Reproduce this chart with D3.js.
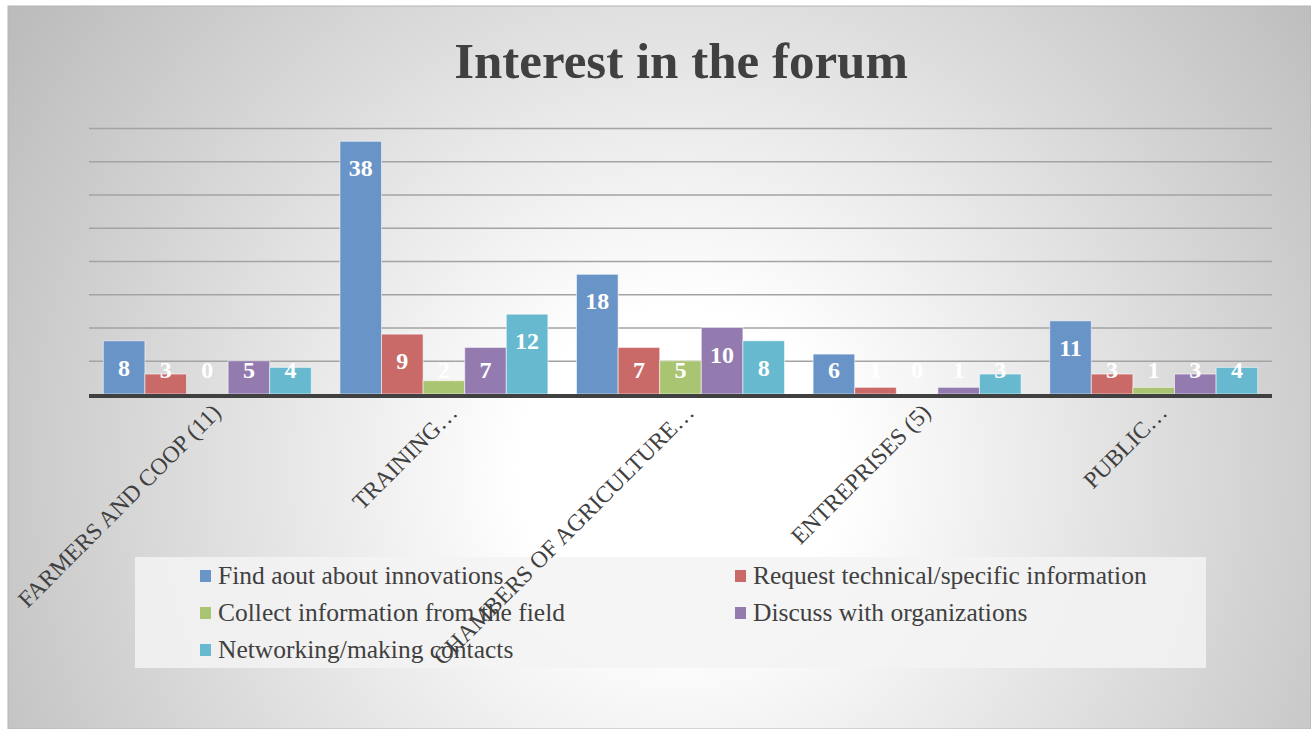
<!DOCTYPE html>
<html>
<head>
<meta charset="utf-8">
<script src="https://cdn.jsdelivr.net/npm/d3@7"></script>
<style>
  html, body { margin: 0; padding: 0; background: #ffffff; }
  svg { display: block; }
</style>
</head>
<body>
<svg id="chart" width="1311" height="729"></svg>
<script>
// ---- data ----
const categories = ["FARMERS AND COOP (11)", "TRAINING…", "CHAMBERS OF AGRICULTURE…", "ENTREPRISES (5)", "PUBLIC…"];
const seriesNames = [
  "Find aout about innovations",
  "Request technical/specific information",
  "Collect information from the field",
  "Discuss with organizations",
  "Networking/making contacts"
];
const findInnovations = [8, 38, 18, 6, 11];
const requestInfo     = [3, 9, 7, 1, 3];
const collectInfo     = [0, 2, 5, 0, 1];
const discussOrgs     = [5, 7, 10, 1, 3];
const networking      = [4, 12, 8, 3, 4];
const gridTicks = [5, 10, 15, 20, 25, 30, 35, 40];
const titleText = "Interest in the forum";

const seriesValues = [findInnovations, requestInfo, collectInfo, discussOrgs, networking];
const colors = ["#6994c7", "#c96a68", "#aac572", "#937bb0", "#66b9cf"];

const svg = d3.select("#chart");
const W = 1311, H = 729;

// ---- background ----
const defs = svg.append("defs");
const rg = defs.append("radialGradient").attr("id", "bg")
  .attr("gradientUnits", "userSpaceOnUse")
  .attr("cx", 680).attr("cy", 470).attr("r", 800);
rg.append("stop").attr("offset", "0").attr("stop-color", "#ffffff");
rg.append("stop").attr("offset", "0.2").attr("stop-color", "#ffffff");
rg.append("stop").attr("offset", "1").attr("stop-color", "#bcbcbc");

svg.append("rect").attr("x", 8).attr("y", 6).attr("width", W - 8).attr("height", H - 6)
  .attr("fill", "url(#bg)").attr("stroke", "#b5b5b5").attr("stroke-width", 1);

// ---- title ----
svg.append("text")
  .attr("x", 681).attr("y", 78)
  .attr("text-anchor", "middle")
  .attr("font-family", "'Liberation Serif', 'DejaVu Serif', serif")
  .attr("font-weight", "bold")
  .attr("font-size", 51)
  .attr("fill", "#404040")
  .text(titleText);

// ---- scales ----
const plot = { left: 89, right: 1272, top: 128, bottom: 394 };
const x0 = d3.scaleBand().domain(categories).range([plot.left, plot.right])
  .paddingInner(0.121).paddingOuter(0.0605);
const x1 = d3.scaleBand().domain(d3.range(seriesNames.length)).range([0, x0.bandwidth()]).padding(0);
const y = d3.scaleLinear().domain([0, 40]).range([plot.bottom, plot.top]);

// ---- gridlines ----
const grid = svg.append("g").attr("transform", `translate(${plot.left},0)`)
  .call(d3.axisLeft(y).tickValues(gridTicks).tickSize(-(plot.right - plot.left)).tickFormat(""));
grid.select(".domain").remove();
grid.selectAll(".tick line").attr("stroke", "#a3a3a3").attr("stroke-width", 1.6);

// ---- bars ----
const groups = svg.append("g").selectAll("g").data(categories).join("g")
  .attr("transform", d => `translate(${x0(d)},0)`);

groups.selectAll("rect")
  .data((d, ci) => seriesValues.map((vals, si) => ({ si, v: vals[ci] })))
  .join("rect")
  .attr("x", d => x1(d.si))
  .attr("y", d => y(d.v))
  .attr("width", x1.bandwidth())
  .attr("height", d => y(0) - y(d.v))
  .attr("fill", d => colors[d.si])
  .attr("stroke", "rgba(255,255,255,0.55)")
  .attr("stroke-width", d => d.v > 0 ? 1 : 0);

// ---- data labels ----
groups.selectAll("text.lbl")
  .data((d, ci) => seriesValues.map((vals, si) => ({ si, v: vals[ci] })))
  .join("text")
  .attr("class", "lbl")
  .attr("x", d => x1(d.si) + x1.bandwidth() / 2)
  .attr("y", d => Math.min(y(d.v) + 35, y(0) - 16))
  .attr("text-anchor", "middle")
  .attr("font-family", "'Liberation Serif', 'DejaVu Serif', serif")
  .attr("font-weight", "bold")
  .attr("font-size", 24)
  .attr("fill", "#ffffff")
  .text(d => d.v);

// ---- x axis ----
const xAxis = svg.append("g").attr("transform", `translate(0,${plot.bottom})`)
  .call(d3.axisBottom(x0).tickSize(0).tickPadding(0));
xAxis.select(".domain").remove();
svg.append("line")
  .attr("x1", plot.left).attr("x2", plot.right)
  .attr("y1", plot.bottom + 2).attr("y2", plot.bottom + 2)
  .attr("stroke", "#404040").attr("stroke-width", 4);
xAxis.selectAll(".tick text")
  .attr("font-family", "'Liberation Serif', 'DejaVu Serif', serif")
  .attr("font-size", 23.5)
  .attr("fill", "#404040")
  .attr("text-anchor", "end")
  .attr("dy", 0)
  .attr("y", 0)
  .attr("transform", "translate(15,20) rotate(-45)");

// ---- legend ----
const legend = svg.append("g");
legend.append("rect").attr("x", 135).attr("y", 557).attr("width", 1071).attr("height", 111)
  .attr("fill", "#f3f3f3").attr("fill-opacity", 0.85);
const colX = [200, 735];
const rowY = [576, 613, 650];
const items = legend.selectAll("g.item").data(seriesNames).join("g").attr("class", "item")
  .attr("transform", (d, i) => `translate(${colX[i % 2]},${rowY[Math.floor(i / 2)]})`);
items.append("rect").attr("x", 0).attr("y", -6).attr("width", 11).attr("height", 12)
  .attr("fill", (d, i) => colors[i]);
items.append("text").attr("x", 18).attr("y", 8)
  .attr("font-family", "'Liberation Serif', 'DejaVu Serif', serif")
  .attr("font-size", 25.5)
  .attr("fill", "#404040")
  .text(d => d);

// category labels drawn over the legend, as in the reference
xAxis.raise();
</script>
</body>
</html>
